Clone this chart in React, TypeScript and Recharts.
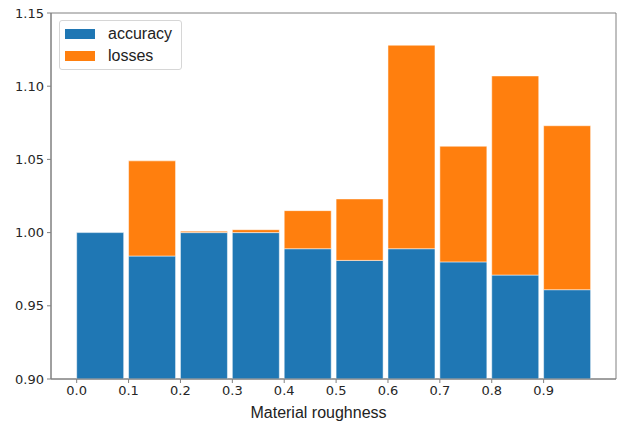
import { BarChart, Bar, XAxis, YAxis, Label, ReferenceArea } from 'recharts';

// roughness bins (left edge of each bar), bar width as in the plot call
const roughness = [0.0, 0.1, 0.2, 0.3, 0.4, 0.5, 0.6, 0.7, 0.8, 0.9];
const BAR_WIDTH = 0.09;
const accuracy = [1.0, 0.984, 1.0, 1.0, 0.989, 0.981, 0.989, 0.98, 0.971, 0.961];
const losses = [0.0, 0.065, 0.001, 0.002, 0.026, 0.042, 0.139, 0.079, 0.136, 0.112];
const xTicks = [0.0, 0.1, 0.2, 0.3, 0.4, 0.5, 0.6, 0.7, 0.8, 0.9];
const yTicks = [0.9, 0.95, 1.0, 1.05, 1.1, 1.15];
const X_DOMAIN = [-0.0495, 1.0395];
const Y_DOMAIN = [0.9, 1.15];

const BLUE = '#1f77b4';
const ORANGE = '#ff7f0e';
const SPINE = '#808080';

// bars are edge-aligned, so centre each one half a width right of its bin
const data = roughness.map((r, i) => ({
  center: r + BAR_WIDTH / 2,
  accuracy: accuracy[i],
  losses: losses[i],
}));

const tickFont = { fontFamily: 'DejaVu Sans', fontSize: 13, fill: '#262626' };
const sansFont = 'Liberation Sans, Arial, sans-serif';

function LegendBox() {
  const items = [
    { name: 'accuracy', color: BLUE },
    { name: 'losses', color: ORANGE },
  ];
  return (
    <div
      style={{
        position: 'absolute',
        left: 59,
        top: 20,
        width: 121,
        height: 48,
        border: '1px solid #d6d6d6',
        borderRadius: 3,
        background: 'rgba(255,255,255,0.8)',
        fontFamily: sansFont,
        fontSize: 16,
        color: '#222',
      }}
    >
      {items.map((it, i) => (
        <div
          key={it.name}
          style={{ position: 'absolute', left: 5, top: i === 0 ? 2 : 24, height: 22, display: 'flex', alignItems: 'center' }}
        >
          <span style={{ display: 'inline-block', width: 30, height: 10, background: it.color }} />
          <span style={{ marginLeft: 13 }}>{it.name}</span>
        </div>
      ))}
    </div>
  );
}

export default function App() {
  return (
    <div style={{ position: 'absolute', left: 0, top: 0, width: 624, height: 423, background: '#fff' }}>
      <BarChart
        width={624}
        height={423}
        data={data}
        margin={{ top: 13, right: 8, left: 0, bottom: 0 }}
        barCategoryGap="5%"
      >
        <XAxis
          dataKey="center"
          type="number"
          domain={X_DOMAIN}
          ticks={xTicks}
          allowDataOverflow
          tickFormatter={(v: number) => v.toFixed(1)}
          tick={tickFont}
          tickSize={4}
          tickMargin={3}
          height={44}
          stroke={SPINE}
          tickLine={{ stroke: SPINE }}
        >
          <Label
            value="Material roughness"
            position="insideBottom"
            offset={5}
            dx={-15}
            style={{ fontFamily: sansFont, fontSize: 16, fill: '#222' }}
          />
        </XAxis>
        <YAxis
          domain={Y_DOMAIN}
          ticks={yTicks}
          allowDataOverflow
          tickFormatter={(v: number) => v.toFixed(2)}
          tick={tickFont}
          tickSize={4}
          tickMargin={3}
          width={51}
          stroke={SPINE}
          tickLine={{ stroke: SPINE }}
        />
        <Bar
          dataKey="accuracy"
          stackId="a"
          fill={BLUE}
          stroke="#fff"
          strokeOpacity={0.5}
          strokeWidth={1}
          isAnimationActive={false}
        />
        <Bar
          dataKey="losses"
          stackId="a"
          fill={ORANGE}
          stroke="#fff"
          strokeOpacity={0.5}
          strokeWidth={1}
          isAnimationActive={false}
        />
        <ReferenceArea
          x1={X_DOMAIN[0]}
          x2={X_DOMAIN[1]}
          y1={Y_DOMAIN[0]}
          y2={Y_DOMAIN[1]}
          fill="none"
          stroke={SPINE}
          strokeWidth={1}
        />
      </BarChart>
      <LegendBox />
    </div>
  );
}
